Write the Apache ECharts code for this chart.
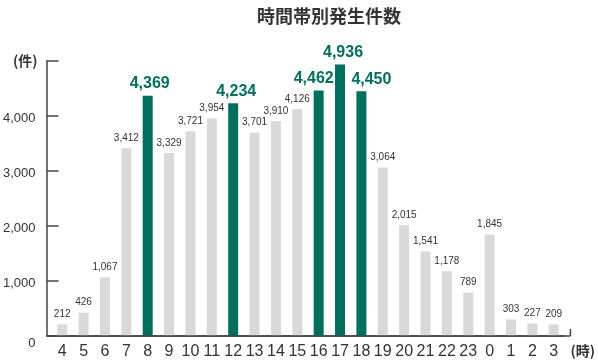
<!DOCTYPE html>
<html><head><meta charset="utf-8">
<script src="https://cdn.jsdelivr.net/npm/echarts@6/dist/echarts.min.js"></script>
<style>html,body{margin:0;padding:0;background:#fff}#c{width:598px;height:361px}</style>
</head><body><div id="c"></div>
<script>
const categories = ['4','5','6','7','8','9','10','11','12','13','14','15','16','17','18','19','20','21','22','23','0','1','2','3'];
const counts = [212,426,1067,3412,4369,3329,3721,3954,4234,3701,3910,4126,4462,4936,4450,3064,2015,1541,1178,789,1845,303,227,209];
const highlighted = ['8','12','16','17','18'];
const yTicks = [0,1000,2000,3000,4000];

const GREEN = '#00705c', GRAY = '#d9d9d9', TXT = '#333';
const FONT = '"Noto Sans CJK JP","Liberation Sans",Arial,sans-serif';
const NUMFONT = '"Liberation Sans",Arial,sans-serif';
const labelShift = {'8':2, '12':3, '16':-5, '17':3, '18':10};

const data = counts.map((v,i)=>{
  const c = categories[i];
  const hi = highlighted.includes(c);
  return {
    value: v,
    itemStyle:{color: hi?GREEN:GRAY},
    label: hi ? {fontSize:16, fontWeight:'bold', color:GREEN, distance:4, offset:[labelShift[c]||0,0]} : {fontSize:10, color:TXT, distance:5}
  };
});

const chart = echarts.init(document.getElementById('c'));
chart.setOption({
  animation:false,
  textStyle:{fontFamily:FONT},
  title:{text:'時間帯別発生件数', left:252, top:2, textStyle:{fontSize:18, fontWeight:'bold', color:'#333', fontFamily:FONT}},
  grid:{left:51, right:29, top:61, bottom:25, containLabel:false},
  xAxis:{
    type:'category', data:categories,
    axisLine:{lineStyle:{color:'#444', width:1.5}},
    axisTick:{show:false},
    axisLabel:{color:TXT, fontSize:16, margin:8, interval:0, fontFamily:NUMFONT},
    name:'(時)', nameLocation:'end', nameGap:6,
    nameTextStyle:{fontSize:14, fontWeight:'bold', color:TXT, verticalAlign:'top', padding:[8,0,0,0]}
  },
  yAxis:{
    type:'value', min:0, max:5000, interval:1000, offset:5,
    axisLine:{show:true, lineStyle:{color:'#444', width:1.5}},
    axisTick:{show:true, inside:true, length:12, lineStyle:{color:'#444', width:1.5}},
    splitLine:{show:false},
    axisLabel:{color:TXT, fontSize:13, margin:11, fontFamily:NUMFONT,
      formatter:v=> v===0 ? '{z|0}' : (yTicks.includes(v) ? '{n|'+v.toLocaleString('en-US')+'}' : ''),
      rich:{z:{fontSize:13, color:TXT, padding:[14,0,0,0], fontFamily:NUMFONT}, n:{fontSize:13, color:TXT, padding:[4,0,0,0], fontFamily:NUMFONT}}},
    name:'(件)', nameLocation:'end', nameGap:0,
    nameTextStyle:{fontSize:14, fontWeight:'bold', color:TXT, align:'right', verticalAlign:'middle', padding:[0,9,0,0]}
  },
  series:[{
    type:'bar', data:data, barWidth:10,
    label:{show:true, position:'top', formatter:p=>p.value.toLocaleString('en-US'), fontFamily:NUMFONT}
  }]
});

// extend the baseline to meet the y-axis and add the small end tick, as in the reference
const y0 = chart.convertToPixel({yAxisIndex:0}, 0);
const rect = chart.getModel().getComponent('grid').coordinateSystem.getRect();
const x0 = rect.x - 5, x1 = rect.x + rect.width + 6;
chart.setOption({graphic:[
  {type:'line', shape:{x1:x0, y1:y0, x2:x1, y2:y0}, style:{stroke:'#444', lineWidth:1.5}, z:10},
  {type:'line', shape:{x1:x1, y1:y0, x2:x1, y2:y0-7}, style:{stroke:'#444', lineWidth:1.5}, z:10}
]});
</script></body></html>
